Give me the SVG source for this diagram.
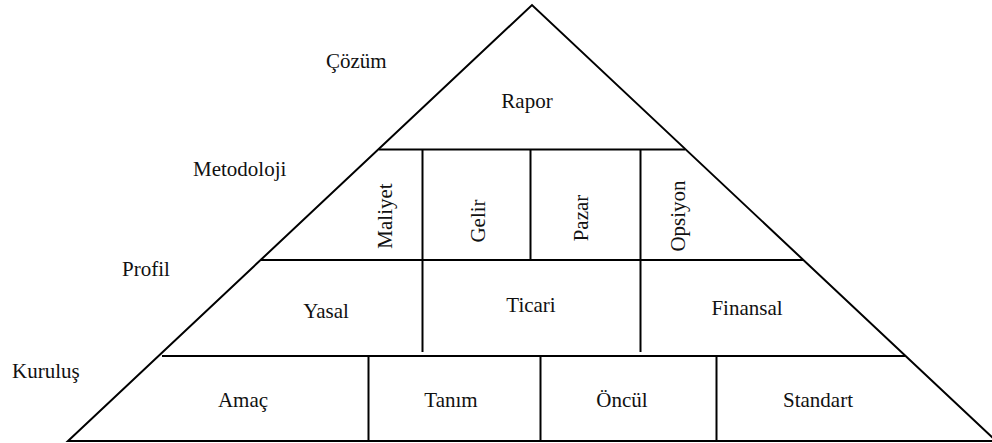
<svg xmlns="http://www.w3.org/2000/svg" width="992" height="443" viewBox="0 0 992 443">
<style>
.ln{stroke:#000;stroke-width:2;fill:none}
text{font-family:"Liberation Serif","Times New Roman",serif;font-size:21px;fill:#111}
.c{text-anchor:middle}
</style>
<rect width="992" height="443" fill="#fff"/>
<g id="connectors">
<polygon class="ln" points="68,441 532,5 996,441"/>
<line class="ln" x1="379" y1="149.5" x2="685" y2="149.5"/>
<line class="ln" x1="261" y1="260" x2="803" y2="260"/>
<line class="ln" x1="162" y1="356" x2="905" y2="356"/>
<line class="ln" x1="422.5" y1="149.5" x2="422.5" y2="260"/>
<line class="ln" x1="530.5" y1="149.5" x2="530.5" y2="260"/>
<line class="ln" x1="640.5" y1="149.5" x2="640.5" y2="260"/>
<line class="ln" x1="422.5" y1="260" x2="422.5" y2="352"/>
<line class="ln" x1="640.5" y1="260" x2="640.5" y2="352"/>
<line class="ln" x1="368.5" y1="357" x2="368.5" y2="441"/>
<line class="ln" x1="540.5" y1="357" x2="540.5" y2="441"/>
<line class="ln" x1="716.5" y1="357" x2="716.5" y2="441"/>
</g>
<g id="label-cozum"><text x="326" y="68">Çözüm</text></g>
<g id="label-metodoloji"><text x="193" y="176">Metodoloji</text></g>
<g id="label-profil"><text x="122" y="276">Profil</text></g>
<g id="label-kurulus"><text x="12" y="378">Kuruluş</text></g>
<g id="node-rapor"><text class="c" x="527" y="108">Rapor</text></g>
<g id="node-maliyet"><text class="c" transform="translate(392,216) rotate(-90)">Maliyet</text></g>
<g id="node-gelir"><text class="c" transform="translate(485,221) rotate(-90)">Gelir</text></g>
<g id="node-pazar"><text class="c" transform="translate(588,218) rotate(-90)">Pazar</text></g>
<g id="node-opsiyon"><text class="c" transform="translate(685,216) rotate(-90)">Opsiyon</text></g>
<g id="node-yasal"><text class="c" x="326" y="318">Yasal</text></g>
<g id="node-ticari"><text class="c" x="531" y="312">Ticari</text></g>
<g id="node-finansal"><text class="c" x="747" y="315">Finansal</text></g>
<g id="node-amac"><text class="c" x="243" y="407">Amaç</text></g>
<g id="node-tanim"><text class="c" x="451" y="407">Tanım</text></g>
<g id="node-oncul"><text class="c" x="622" y="407">Öncül</text></g>
<g id="node-standart"><text class="c" x="818" y="407">Standart</text></g>
</svg>
